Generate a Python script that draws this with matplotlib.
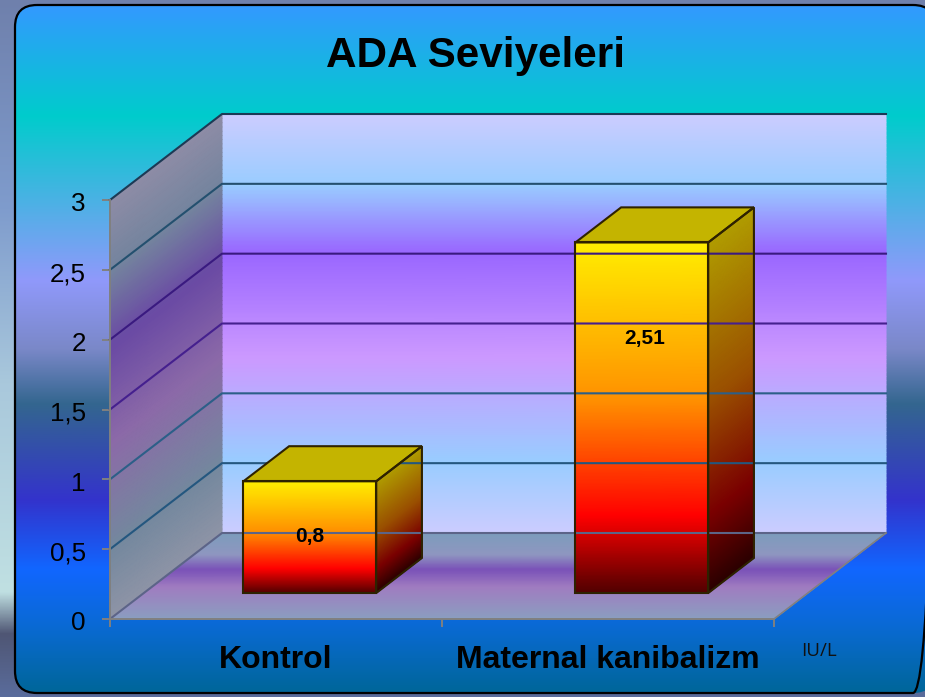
import matplotlib
matplotlib.use("Agg")
import matplotlib.pyplot as plt
import numpy as np

from matplotlib.colors import LinearSegmentedColormap
from matplotlib.patches import FancyBboxPatch, Polygon
from matplotlib.transforms import ScaledTranslation

plt.rcParams["font.family"] = ["Liberation Sans", "DejaVu Sans"]

categories = ["Kontrol", "Maternal kanibalizm"]
values = [0.8, 2.51]
value_labels = ["0,8", "2,51"]
y_ticks = [0, 0.5, 1, 1.5, 2, 2.5, 3]
y_tick_labels = ["0", "0,5", "1", "1,5", "2", "2,5", "3"]
grid_colors = ["#5c6488", "#24577f", "#2c5f88", "#45208e", "#3a1a80", "#24506f", "#1c3a55"]
title = "ADA Seviyeleri"
unit = "IU/L"

W, H = 925, 697

# depth of the box in data units per unit of depth
DX = 112 / 664 * 2
DY = 86 / 419 * 3
BAR_WIDTH = 0.4
BAR_D0, BAR_D1 = 0.302, 0.71
label_frac = [0.51, 0.725]
label_dx = [0, 0.01]


def cmap(stops):
    return LinearSegmentedColormap.from_list("g", stops, N=512)


outer_cm = cmap([(0, "#6f80ac"), (0.3, "#7f9ccd"), (0.55, "#a9c8dc"), (0.85, "#c0e0e2"),
                 (0.91, "#4f5674"), (1, "#5a6c9c")])
panel_cm = cmap([(0, "#3399ff"), (0.16, "#00cccc"), (0.4, "#9099fb"), (0.5, "#7a88c8"),
                 (0.58, "#33668f"), (0.72, "#3333cc"), (0.82, "#1166ff"), (0.9, "#0a6ad6"),
                 (1, "#006699")])
wall_cm = cmap([(0, "#ccccff"), (0.17, "#99ccff"), (0.33, "#9966ff"), (0.58, "#cc99ff"),
                (0.83, "#99ccff"), (1, "#ccccff")])
side_cm = cmap([(0, "#8e8ca6"), (0.17, "#74849e"), (0.35, "#6a4aa4"), (0.58, "#8c6aa8"),
                (0.83, "#74889e"), (1, "#8e94a6")])
floor_cm = cmap([(0, "#7d9cbc"), (0.25, "#8f96c0"), (0.42, "#7a52b8"), (0.62, "#a07cc0"),
                 (1, "#8a9fc0")])
front_cm = cmap([(0, "#ffee00"), (0.45, "#ff9000"), (0.78, "#ff0000"), (1, "#500000")])
bar_side_cm = cmap([(0, "#b09c00"), (0.45, "#9a5000"), (0.78, "#7a0000"), (1, "#2a0000")])

fig = plt.figure(figsize=(W / 100, H / 100), dpi=100)

# slide background and rounded panel
bg = fig.add_axes([0, 0, 1, 1])
bg.set_xlim(0, W)
bg.set_ylim(H, 0)
bg.axis("off")
grad = np.linspace(0, 1, 512).reshape(-1, 1)
bg.imshow(grad, cmap=outer_cm, extent=[0, W, H, 0], aspect="auto")
im = bg.imshow(grad, cmap=panel_cm, extent=[15, 935, 693, 5], aspect="auto", zorder=2)
box = FancyBboxPatch((15 + 22, 5 + 22), 935 - 15 - 44, 688 - 44,
                     boxstyle="round,pad=22,rounding_size=22",
                     facecolor="none", edgecolor="black", linewidth=1.6, zorder=3)
bg.add_patch(box)
im.set_clip_path(box)
bg.set_xlim(0, W)
bg.set_ylim(H, 0)

# real chart axes sit on the front plane of the 3d box
ax = fig.add_axes([110 / W, (H - 619) / H, 664 / W, 419 / H])
ax.patch.set_visible(False)
ax.set_xlim(0, 2)
ax.set_ylim(0, 3)


def project(x, v, d):
    return x + d * DX, v + d * DY


def face(x, v, d, cm, c):
    px, py = project(x, v, d)
    ax.pcolormesh(px, py, c, cmap=cm, vmin=0, vmax=1, shading="gouraud",
                  clip_on=False, zorder=1, rasterized=True)


rows = np.linspace(0, 1, 100)
ymax = y_ticks[-1]
shade = 1 - rows[:, None] * np.ones((100, 2))

# back wall
xx, vv = np.meshgrid([0, 2], rows * ymax)
face(xx, vv, np.ones_like(xx), wall_cm, shade)

# side wall
dd, vv = np.meshgrid([0, 1], rows * ymax)
face(np.zeros_like(dd), vv, dd, side_cm, shade)

# floor
xx, dd = np.meshgrid([0, 2], rows)
face(xx, np.zeros_like(xx), dd, floor_cm, shade)

# grid lines on both walls
for tick, col in zip(y_ticks, grid_colors):
    px, py = project(np.array([0, 0, 2]), np.array([tick, tick, tick]), np.array([0, 1, 1]))
    ax.plot(px, py, color=col, lw=1.5, clip_on=False, zorder=2)

# floor edge on the right
px, py = project(np.array([2, 2]), np.array([0, 0]), np.array([0, 1]))
ax.plot(px, py, color="#808080", lw=1.2, clip_on=False, zorder=2)

# bars
for i, val in enumerate(values):
    x0, x1 = i + 0.5 - BAR_WIDTH / 2, i + 0.5 + BAR_WIDTH / 2
    edge = "#2e2200"

    # right side
    dd, vv = np.meshgrid([BAR_D0, BAR_D1], rows * val)
    face(np.full_like(dd, x1), vv, dd, bar_side_cm, shade)

    # front
    xx, vv = np.meshgrid([x0, x1], rows * val)
    face(xx, vv, np.full_like(xx, BAR_D0), front_cm, shade)

    # top
    top = [project(x0, val, BAR_D0), project(x1, val, BAR_D0),
           project(x1, val, BAR_D1), project(x0, val, BAR_D1)]
    ax.add_patch(Polygon(top, closed=True, facecolor="#c4b400", edgecolor=edge, lw=1.5,
                         clip_on=False, zorder=3))

    front = [project(x0, 0, BAR_D0), project(x1, 0, BAR_D0),
             project(x1, val, BAR_D0), project(x0, val, BAR_D0)]
    ax.add_patch(Polygon(front, closed=True, fill=False, edgecolor=edge, lw=1.5,
                         clip_on=False, zorder=3))
    side = [project(x1, 0, BAR_D0), project(x1, 0, BAR_D1),
            project(x1, val, BAR_D1), project(x1, val, BAR_D0)]
    ax.add_patch(Polygon(side, closed=True, fill=False, edgecolor=edge, lw=1.5,
                         clip_on=False, zorder=3))

    lx, ly = project(i + 0.5 + label_dx[i], val * label_frac[i], BAR_D0)
    ax.text(lx, ly, value_labels[i], ha="center", va="center", fontsize=15,
            fontweight="bold", color="black", zorder=4)

# axes, ticks and labels
for s in ["top", "right"]:
    ax.spines[s].set_visible(False)
for s in ["left", "bottom"]:
    ax.spines[s].set_color("#808080")
    ax.spines[s].set_linewidth(1.4)
    ax.spines[s].set_zorder(5)

ax.set_yticks(y_ticks)
ax.set_yticklabels(y_tick_labels, fontsize=18.7)
ax.tick_params(axis="y", length=6, width=1.4, color="#808080", pad=11.5)
# labels sit a little below their ticks in the original
nudge = ScaledTranslation(0, -2 / 100, fig.dpi_scale_trans)
for lab in ax.get_yticklabels():
    lab.set_transform(lab.get_transform() + nudge)
ax.set_xticks([0, 1, 2])
ax.set_xticklabels([])
ax.tick_params(axis="x", length=6, width=1.4, color="#808080")
ax.set_xticks([0.5, 1.5], minor=True)
ax.set_xticklabels(categories, minor=True, fontsize=23, fontweight="bold")
ax.tick_params(axis="x", which="minor", length=0, pad=19)

fig.text(476 / W, 1 - 56 / H, title, ha="center", va="center", fontsize=30.4, fontweight="bold")
fig.text(819 / W, 1 - 651 / H, unit, ha="center", va="center", fontsize=13.5,
         family=["Open Sans", "DejaVu Sans"], color="#111111")

fig.savefig("out.png", dpi=100)
